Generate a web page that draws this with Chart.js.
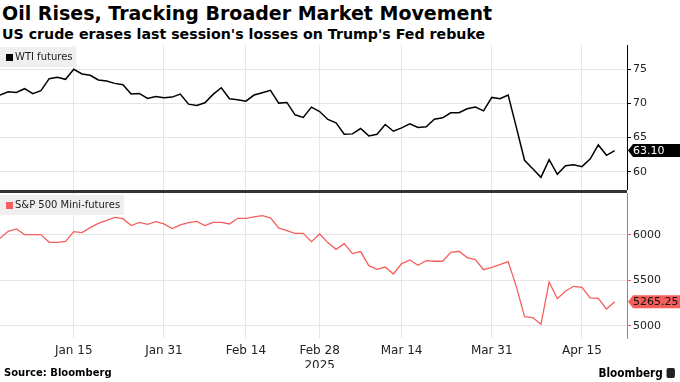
<!DOCTYPE html>
<html>
<head>
<meta charset="utf-8">
<script src="https://cdn.jsdelivr.net/npm/chart.js@4.4.1/dist/chart.umd.min.js"></script>
<style>
    body { margin: 0; width: 680px; height: 382px; background: #fff; overflow: hidden; position: relative; font-family: "DejaVu Sans", sans-serif; }
    #title { position: absolute; left: 2px; top: 2px; font-size: 19px; font-weight: bold; color: #000; white-space: nowrap; }
    #subtitle { position: absolute; left: 2px; top: 26px; font-size: 14.2px; font-weight: bold; color: #000; white-space: nowrap; }
    #top { position: absolute; left: 0; top: 45px; width: 680px; height: 145px; }
    #sep { position: absolute; left: 0; top: 190px; width: 627px; height: 3px; background: #333; }
    #bottom { position: absolute; left: 0; top: 193px; width: 680px; height: 175px; }
    #source { position: absolute; left: 4px; top: 367px; font-size: 10px; font-weight: bold; color: #000; }
    #logo { position: absolute; right: 5px; top: 365px; font-size: 12.5px; font-weight: bold; color: #000; transform: scaleX(0.84); transform-origin: right center; white-space: nowrap; }
    #logo span { display: inline-block; width: 10px; height: 10px; background: #222; border-radius: 2px; margin-left: 4px; vertical-align: -1px; }
</style>
</head>
<body>
<div id="title">Oil Rises, Tracking Broader Market Movement</div>
<div id="subtitle">US crude erases last session's losses on Trump's Fed rebuke</div>
<div id="top"><canvas id="wtiChart"></canvas></div>
<div id="sep"></div>
<div id="bottom"><canvas id="spxChart"></canvas></div>
<div id="source">Source: Bloomberg</div>
<div id="logo">Bloomberg<span></span></div>
<script>
// trading days, Dec 31 2024 .. Apr 22 2025
var dates = [
    'Dec 31', 'Jan 2', 'Jan 3', 'Jan 6', 'Jan 7', 'Jan 8', 'Jan 10', 'Jan 13', 'Jan 14', 'Jan 15',
    'Jan 16', 'Jan 17', 'Jan 21', 'Jan 22', 'Jan 23', 'Jan 24', 'Jan 27', 'Jan 28', 'Jan 29', 'Jan 30', 'Jan 31',
    'Feb 3', 'Feb 4', 'Feb 5', 'Feb 6', 'Feb 7', 'Feb 10', 'Feb 11', 'Feb 12', 'Feb 13', 'Feb 14',
    'Feb 18', 'Feb 19', 'Feb 20', 'Feb 21', 'Feb 24', 'Feb 25', 'Feb 26', 'Feb 27', 'Feb 28',
    'Mar 3', 'Mar 4', 'Mar 5', 'Mar 6', 'Mar 7', 'Mar 10', 'Mar 11', 'Mar 12', 'Mar 13', 'Mar 14',
    'Mar 17', 'Mar 18', 'Mar 19', 'Mar 20', 'Mar 21', 'Mar 24', 'Mar 25', 'Mar 26', 'Mar 27', 'Mar 28', 'Mar 31',
    'Apr 1', 'Apr 2', 'Apr 3', 'Apr 4', 'Apr 7', 'Apr 8', 'Apr 9', 'Apr 10', 'Apr 11', 'Apr 14', 'Apr 15',
    'Apr 16', 'Apr 17', 'Apr 21', 'Apr 22'
];
var wti = [
    71.23, 71.72, 71.62, 72.16, 71.42, 71.86, 73.63, 73.82, 73.53, 75.00,
    74.31, 74.12, 73.43, 73.28, 72.94, 72.75, 71.37, 71.47, 70.74, 71.03, 70.83,
    70.93, 71.37, 69.90, 69.71, 70.10, 71.32, 72.30, 70.69, 70.54, 70.34,
    71.23, 71.57, 71.91, 70.05, 70.15, 68.33, 67.94, 69.46, 68.82,
    67.65, 67.16, 65.49, 65.54, 66.32, 65.25, 65.49, 66.91, 65.93, 66.42,
    67.01, 66.47, 66.57, 67.70, 67.89, 68.63, 68.63, 69.22, 69.46, 68.92, 70.88,
    70.69, 71.23, 66.50, 61.67, 60.44, 59.17, 61.76, 59.61, 60.88, 61.03, 60.74,
    61.86, 63.92, 62.40, 63.10
];
var spx = [
    5963, 6040, 6066, 6004, 6004, 6004, 5919, 5919, 5930, 6037,
    6026, 6081, 6128, 6161, 6194, 6179, 6103, 6139, 6117, 6147, 6121,
    6070, 6110, 6136, 6150, 6103, 6139, 6139, 6121, 6183, 6183,
    6198, 6212, 6187, 6077, 6048, 6018, 6018, 5927, 6011,
    5916, 5842, 5905, 5795, 5817, 5663, 5623, 5648, 5571, 5685,
    5725, 5667, 5718, 5711, 5711, 5810, 5821, 5751, 5729, 5619, 5645,
    5674, 5707, 5432, 5103, 5092, 5018, 5484, 5300, 5385, 5436, 5425,
    5308, 5304, 5187, 5265.25
];
var tickLabels = ['Jan 15', 'Jan 31', 'Feb 14', 'Feb 28', 'Mar 14', 'Mar 31', 'Apr 15'];
var yearLabel = '2025';
var wtiTicks = [60, 65, 70, 75];
var spxTicks = [5000, 5500, 6000];

var BLACK = '#000000';
var SALMON = '#f45f5c';
var GRID = '#e6e6e6';
var FONT = '"DejaVu Sans", sans-serif';

function points(values) {
    return values.map(function (v, i) { return {x: i, y: v}; });
}

// legend box in the top-left corner and the last-value tag on the axis
function panelPlugin(legendText, color, values, textColor) {
    return {
        id: 'panel',
        afterDatasetsDraw: function (chart) {
            var ctx = chart.ctx;
            var area = chart.chartArea;
            var y = chart.scales.y;
            ctx.save();
            ctx.font = '10px ' + FONT;
            ctx.textBaseline = 'middle';
            var w = ctx.measureText(legendText).width + 19;
            ctx.fillStyle = '#efefef';
            ctx.fillRect(area.left, area.top + 2, w, 20);
            ctx.fillStyle = color;
            ctx.fillRect(area.left + 6, area.top + 9, 7, 7);
            ctx.fillStyle = '#222';
            ctx.fillText(legendText, area.left + 15, area.top + 12.5);

            var last = values[values.length - 1];
            var py = y.getPixelForValue(last);
            var x0 = area.right + 1;
            var h = 13;
            ctx.fillStyle = color;
            ctx.beginPath();
            ctx.moveTo(x0, py);
            ctx.lineTo(x0 + 5, py - h / 2);
            ctx.lineTo(chart.width, py - h / 2);
            ctx.lineTo(chart.width, py + h / 2);
            ctx.lineTo(x0 + 5, py + h / 2);
            ctx.closePath();
            ctx.fill();
            ctx.fillStyle = textColor;
            ctx.font = '11px ' + FONT;
            ctx.fillText(last.toFixed(2), x0 + 5, py + 0.5);
            ctx.restore();
        }
    };
}

function xAxis(showLabels) {
    return {
        type: 'linear',
        min: 0,
        max: 76.5,
        border: {display: false},
        grid: {color: GRID, drawTicks: false},
        afterBuildTicks: function (scale) {
            scale.ticks = tickLabels.map(function (l) { return {value: dates.indexOf(l)}; });
        },
        ticks: {
            display: showLabels,
            autoSkip: false,
            maxRotation: 0,
            padding: 6,
            color: '#222',
            font: {family: FONT, size: 12},
            callback: function (v) {
                var l = dates[v];
                return l === 'Feb 28' ? [l, yearLabel] : l;
            }
        },
        afterFit: function (scale) {
            scale.height = showLabels ? 30 : 0;
            scale.paddingLeft = 0;
            scale.paddingRight = 0;
        }
    };
}

function yAxis(min, max, ticks, borderColor) {
    return {
        type: 'linear',
        position: 'right',
        min: min,
        max: max,
        border: {color: borderColor, width: 1},
        grid: {color: GRID, tickColor: borderColor, tickLength: 4, drawTicks: true},
        afterBuildTicks: function (scale) {
            scale.ticks = ticks.map(function (v) { return {value: v}; });
        },
        ticks: {
            autoSkip: false,
            padding: 2,
            color: '#222',
            font: {family: FONT, size: 11},
            callback: function (v) { return String(v); }
        },
        afterFit: function (scale) {
            scale.width = 53;
            scale.paddingTop = 0;
            scale.paddingBottom = 0;
        }
    };
}

function makeChart(canvasId, label, values, color, width, yMin, yMax, ticks, showX, tagText) {
    return new Chart(document.getElementById(canvasId), {
        type: 'line',
        data: {
            datasets: [{
                label: label,
                data: points(values),
                borderColor: color,
                borderWidth: width,
                pointRadius: 0,
                pointHoverRadius: 0,
                tension: 0
            }]
        },
        options: {
            responsive: true,
            maintainAspectRatio: false,
            animation: false,
            events: [],
            layout: {padding: 0, autoPadding: false},
            plugins: {legend: {display: false}, tooltip: {enabled: false}},
            scales: {
                x: xAxis(showX),
                y: yAxis(yMin, yMax, ticks, color)
            }
        },
        plugins: [panelPlugin(label, color, values, tagText)]
    });
}

makeChart('wtiChart', 'WTI futures', wti, BLACK, 1.5, 57.32, 78.56, wtiTicks, false, '#ffffff');
makeChart('spxChart', 'S&P 500 Mini-futures', spx, SALMON, 1.3, 4868, 6461, spxTicks, true, '#111111');
</script>
</body>
</html>
